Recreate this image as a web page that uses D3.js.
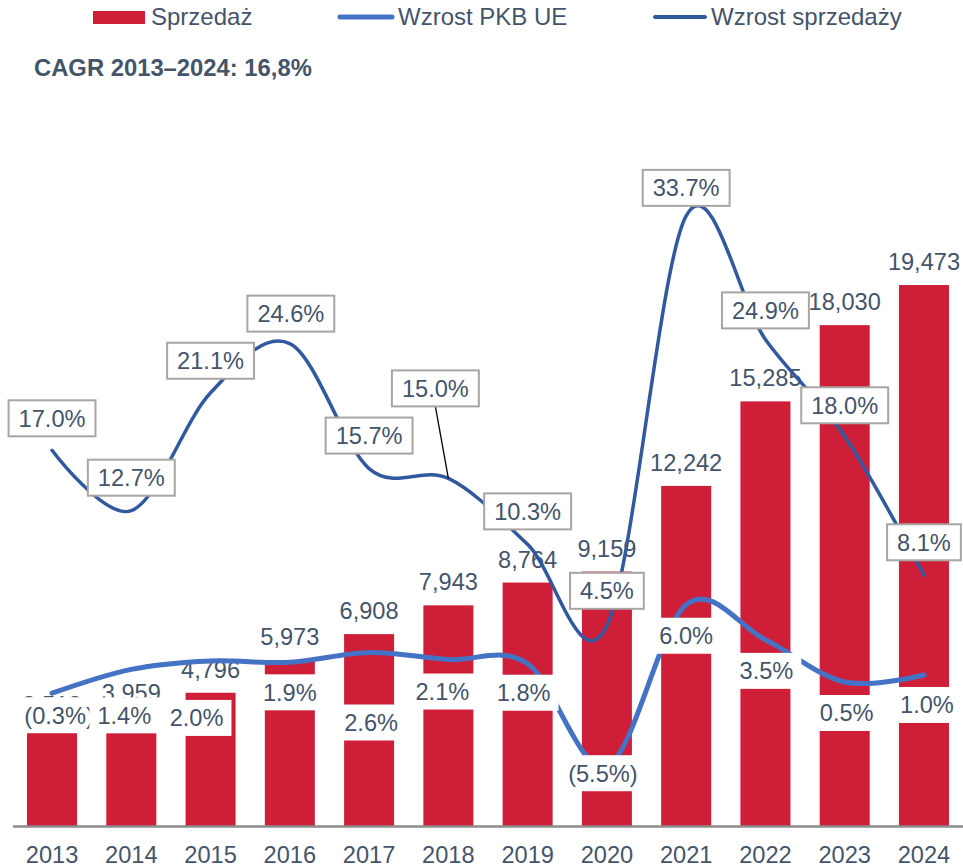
<!DOCTYPE html>
<html><head><meta charset="utf-8">
<script src="https://cdn.jsdelivr.net/npm/d3@7"></script>
<style>
body{margin:0;background:#fff}
svg{display:block}
text{font-family:"Liberation Sans",Arial,sans-serif}
</style>
</head><body>
<svg id="c" width="963" height="866"></svg>
<script>
// ---- data ----
const years = ["2013","2014","2015","2016","2017","2018","2019","2020","2021","2022","2023","2024"];
const sales = [3513,3959,4796,5973,6908,7943,8764,9159,12242,15285,18030,19473];
const salesGrowth = [17.0,12.7,21.1,24.6,15.7,15.0,10.3,4.5,33.7,24.9,18.0,8.1];
const gdpGrowth = [-0.3,1.4,2.0,1.9,2.6,2.1,1.8,-5.5,6.0,3.5,0.5,1.0];
const seriesNames = ["Sprzedaż","Wzrost PKB UE","Wzrost sprzedaży"];
const cagrText = "CAGR 2013–2024: 16,8%";

// ---- layout (label nudges, px) ----
const gdpLabelDx = [7,-7,-14,0,2,-6,-4,-4,0,1,2,3];
const gdpLabelDy = [22,46,57,30,70,32,29,7,31,31,31,30];
const salesLabelDx = [0,0,0,1,0,-13,0,0,0,0,0,0];
const salesLabelDy = [-32,-33,-32,-30,-33,-90,-33,-35,-28,-29,-31,-33];

const C = {red:"#CF1F38", gdp:"#4472C4", sales:"#3159A0", text:"#44546A", border:"#A8A5A2", axis:"#8C8C8C"};
const FS = 23.6;

const svg = d3.select("#c");
const x = d3.scaleBand().domain(years).range([12.4, 963.6]).paddingInner(0.369).paddingOuter(0.1845);
const yBar = d3.scaleLinear().domain([0, 20000]).range([826, 826 - 555.6]);
const yPct = d3.scaleLinear().domain([-10, 40]).range([689 + 140.4, 689 - 561.6]);
const cx = d => x(d) + x.bandwidth() / 2;
const fmtPct = v => v < 0 ? "(" + Math.abs(v).toFixed(1) + "%)" : v.toFixed(1) + "%";
const fmtNum = d3.format(",");

// bars
svg.append("g").selectAll("rect").data(years).join("rect")
  .attr("x", d => x(d)).attr("width", x.bandwidth())
  .attr("y", (d, i) => yBar(sales[i])).attr("height", (d, i) => yBar(0) - yBar(sales[i]))
  .attr("fill", C.red);

// bar value labels
svg.append("g").selectAll("text").data(years).join("text")
  .attr("x", d => cx(d)).attr("y", (d, i) => yBar(sales[i]) - 15)
  .attr("text-anchor", "middle").attr("font-size", FS).attr("fill", C.text)
  .text((d, i) => fmtNum(sales[i]));

// axis
const ax = svg.append("g").attr("transform", "translate(0,826)")
  .call(d3.axisBottom(x).tickSize(0).tickSizeOuter(0).tickPadding(20));
ax.select(".domain").attr("stroke", C.axis).attr("stroke-width", 2.5);
ax.selectAll("text").attr("font-size", FS).attr("fill", C.text)
  .attr("font-family", '"Liberation Sans",Arial,sans-serif');

// lines
const line = arr => d3.line().x((d, i) => cx(years[i])).y(d => yPct(d)).curve(d3.curveCatmullRom.alpha(0))(arr);
svg.append("path").attr("d", line(gdpGrowth)).attr("fill", "none")
  .attr("stroke", C.gdp).attr("stroke-width", 5).attr("stroke-linecap", "round");
svg.append("path").attr("d", line(salesGrowth)).attr("fill", "none")
  .attr("stroke", C.sales).attr("stroke-width", 3.5).attr("stroke-linecap", "round");

// leader line for 2018 sales label
const leaderG = svg.append("g");

// gdp labels (white boxes)
const gG = svg.append("g");
gdpGrowth.forEach((v, i) => {
  const lx = cx(years[i]) + gdpLabelDx[i], ly = yPct(v) + gdpLabelDy[i];
  const g = gG.append("g");
  const r = g.append("rect").attr("fill", "#fff");
  const t = g.append("text").attr("x", lx).attr("y", ly).attr("dy", "0.36em")
    .attr("text-anchor", "middle").attr("font-size", FS).attr("fill", C.text).text(fmtPct(v));
  const w = t.node().getComputedTextLength() + 16;
  r.attr("x", lx - w / 2).attr("y", ly - 18).attr("width", w).attr("height", 36);
});

// sales labels (bordered boxes)
const sG = svg.append("g");
salesGrowth.forEach((v, i) => {
  const px = cx(years[i]), py = yPct(v);
  const lx = px + salesLabelDx[i], ly = py + salesLabelDy[i];
  if (Math.abs(salesLabelDy[i]) > 50) {
    leaderG.append("line").attr("x1", lx).attr("y1", ly + 18).attr("x2", px).attr("y2", py)
      .attr("stroke", "#000").attr("stroke-width", 1.3);
  }
  const g = sG.append("g");
  const r = g.append("rect").attr("fill", "#fff").attr("stroke", C.border).attr("stroke-width", 2);
  const t = g.append("text").attr("x", lx).attr("y", ly).attr("dy", "0.36em")
    .attr("text-anchor", "middle").attr("font-size", FS).attr("fill", C.text).text(fmtPct(v));
  const w = t.node().getComputedTextLength() + 20;
  r.attr("x", lx - w / 2).attr("y", ly - 18).attr("width", w).attr("height", 36);
});

// legend
const lg = svg.append("g");
lg.append("rect").attr("x", 93).attr("y", 11).attr("width", 52).attr("height", 13).attr("fill", C.red);
lg.append("text").attr("x", 151).attr("y", 25).attr("font-size", FS + 0.4).attr("fill", C.text).text(seriesNames[0]);
lg.append("line").attr("x1", 340).attr("x2", 392).attr("y1", 17).attr("y2", 17)
  .attr("stroke", C.gdp).attr("stroke-width", 5).attr("stroke-linecap", "round");
lg.append("text").attr("x", 398).attr("y", 25).attr("font-size", FS + 0.4).attr("fill", C.text).text(seriesNames[1]);
lg.append("line").attr("x1", 655).attr("x2", 705).attr("y1", 17).attr("y2", 17)
  .attr("stroke", C.sales).attr("stroke-width", 4).attr("stroke-linecap", "round");
lg.append("text").attr("x", 711).attr("y", 25).attr("font-size", FS + 0.4).attr("fill", C.text).text(seriesNames[2]);

// CAGR note
svg.append("text").attr("x", 34).attr("y", 76).attr("font-size", 23.8).attr("font-weight", "bold")
  .attr("fill", C.text).text(cagrText);
</script>
</body></html>
